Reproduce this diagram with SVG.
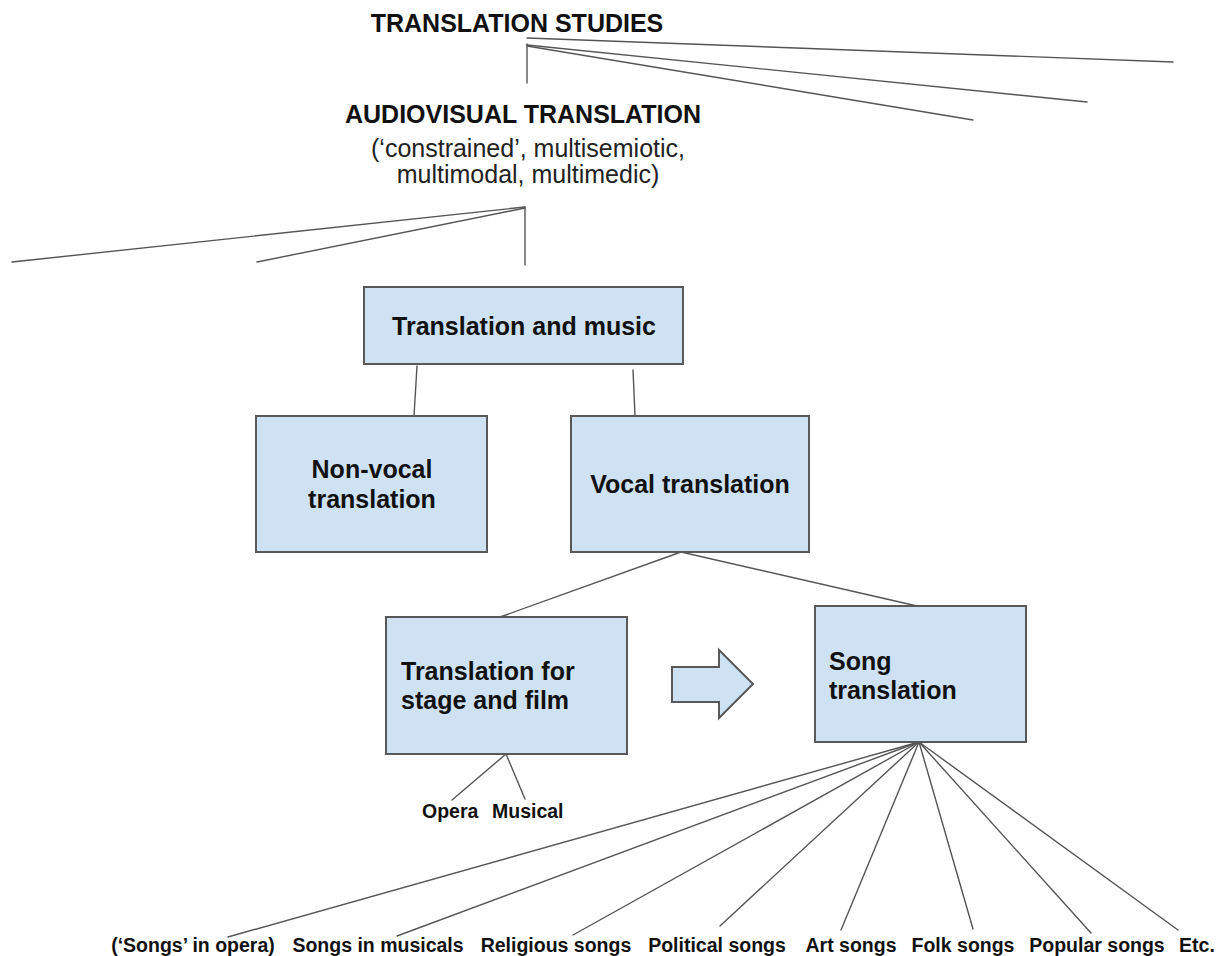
<svg xmlns="http://www.w3.org/2000/svg" width="1225" height="956" viewBox="0 0 1225 956">
<style>
.bg{fill:#ffffff}
.box{fill:#cfe2f3;stroke:#595959;stroke-width:2}
.ln{stroke:#555555;stroke-width:1.4;fill:none;stroke-linecap:round}
.t{font-family:"Liberation Sans",Arial,sans-serif;fill:#111111}
.h{font-size:25px;font-weight:bold}
.s{font-size:25px;font-weight:normal;fill:#222222}
.b{font-size:25px;font-weight:bold}
.l{font-size:19.5px;font-weight:bold}
.c{text-anchor:middle}
</style>
<rect class="bg" x="0" y="0" width="1225" height="956"/>
<g id="connectors">
<line class="ln" x1="527" y1="38" x2="1173" y2="62"/>
<line class="ln" x1="527" y1="45" x2="1087" y2="102"/>
<line class="ln" x1="527" y1="46" x2="973" y2="120"/>
<line class="ln" x1="527" y1="44" x2="527" y2="83"/>
<line class="ln" x1="525" y1="207" x2="12" y2="262"/>
<line class="ln" x1="525" y1="208" x2="257" y2="262"/>
<line class="ln" x1="525" y1="207" x2="525" y2="265"/>
<line class="ln" x1="417" y1="366" x2="414" y2="416"/>
<line class="ln" x1="633" y1="370" x2="635" y2="416"/>
<line class="ln" x1="681" y1="552" x2="500" y2="617"/>
<line class="ln" x1="681" y1="552" x2="917" y2="606"/>
<line class="ln" x1="506" y1="754" x2="452" y2="800"/>
<line class="ln" x1="506" y1="754" x2="525" y2="799"/>
<line class="ln" x1="919" y1="742" x2="228" y2="937"/>
<line class="ln" x1="919" y1="742" x2="397" y2="936"/>
<line class="ln" x1="919" y1="742" x2="573" y2="935"/>
<line class="ln" x1="919" y1="742" x2="720" y2="926"/>
<line class="ln" x1="919" y1="742" x2="841" y2="930"/>
<line class="ln" x1="919" y1="742" x2="973" y2="929"/>
<line class="ln" x1="919" y1="742" x2="1091" y2="933"/>
<line class="ln" x1="919" y1="742" x2="1178" y2="930"/>
</g>
<g id="translation-studies">
<text class="t h c" x="517" y="32">TRANSLATION STUDIES</text>
</g>
<g id="audiovisual-translation">
<text class="t h c" x="523" y="123">AUDIOVISUAL TRANSLATION</text>
<text class="t s c" x="528" y="157">(‘constrained’, multisemiotic,</text>
<text class="t s c" x="528" y="183">multimodal, multimedic)</text>
</g>
<g id="translation-and-music">
<rect class="box" x="364" y="287" width="319" height="77"/>
<text class="t b c" x="524" y="335">Translation and music</text>
</g>
<g id="non-vocal-translation">
<rect class="box" x="256" y="416" width="231" height="136"/>
<text class="t b c" x="372" y="478">Non-vocal</text>
<text class="t b c" x="372" y="508">translation</text>
</g>
<g id="vocal-translation">
<rect class="box" x="571" y="416" width="238" height="136"/>
<text class="t b c" x="690" y="493">Vocal translation</text>
</g>
<g id="stage-and-film">
<rect class="box" x="386" y="617" width="241" height="137"/>
<text class="t b" x="401" y="680">Translation for</text>
<text class="t b" x="401" y="709">stage and film</text>
</g>
<g id="arrow">
<polygon class="box" points="672,667 719,667 719,650 753,684 719,718 719,702 672,702"/>
</g>
<g id="song-translation">
<rect class="box" x="815" y="606" width="211" height="136"/>
<text class="t b" x="829" y="670">Song</text>
<text class="t b" x="829" y="699">translation</text>
</g>
<g id="opera"><text class="t l" x="422" y="818">Opera</text></g>
<g id="musical"><text class="t l" x="492" y="818">Musical</text></g>
<g id="songs-in-opera"><text class="t l c" x="193" y="952">(‘Songs’ in opera)</text></g>
<g id="songs-in-musicals"><text class="t l c" x="378" y="952">Songs in musicals</text></g>
<g id="religious-songs"><text class="t l c" x="556" y="952">Religious songs</text></g>
<g id="political-songs"><text class="t l c" x="717" y="952">Political songs</text></g>
<g id="art-songs"><text class="t l c" x="851" y="952">Art songs</text></g>
<g id="folk-songs"><text class="t l c" x="963" y="952">Folk songs</text></g>
<g id="popular-songs"><text class="t l c" x="1097" y="952">Popular songs</text></g>
<g id="etc"><text class="t l c" x="1197" y="952">Etc.</text></g>
</svg>
